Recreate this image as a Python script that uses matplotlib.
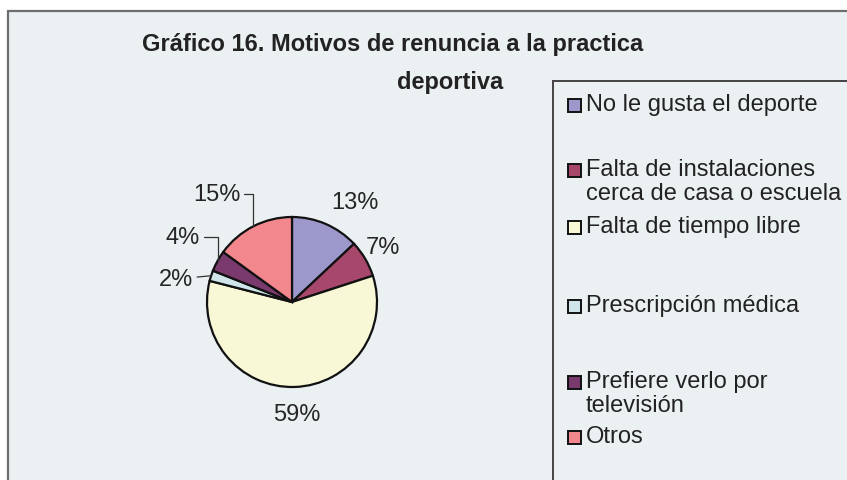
import matplotlib
matplotlib.use("Agg")
import matplotlib.pyplot as plt
import numpy as np
from matplotlib.patches import Rectangle

plt.rcParams['font.family'] = ['Liberation Sans', 'DejaVu Sans']

# ---- data ----
categories = ["No le gusta el deporte",
              "Falta de instalaciones\ncerca de casa o escuela",
              "Falta de tiempo libre",
              "Prescripción médica",
              "Prefiere verlo por\ntelevisión",
              "Otros"]
values = [13, 7, 59, 2, 4, 15]
pct_labels = ["13%", "7%", "59%", "2%", "4%", "15%"]
title_line1 = "Gráfico 16. Motivos de renuncia a la practica"
title_line2 = "deportiva"

# ---- style ----
colors = ["#9d98cc", "#a8476c", "#f8f7d6", "#cfe5ea", "#7b3a6e", "#f2888e"]
W, H = 847, 481
bg = "#ebf1f3"
FS = 17

fig = plt.figure(figsize=(W / 100, H / 100), dpi=100)
fig.patch.set_facecolor("white")
ax = fig.add_axes([0, 0, 1, 1])

def py(y):  # pixel-from-top -> data y
    return H - y

# pie
cx, cy, R = 292, py(303), 85
wedges, _ = ax.pie(values, colors=colors, startangle=90, counterclock=False,
                   center=(cx, cy), radius=R, frame=True,
                   wedgeprops=dict(edgecolor="#111111", linewidth=1.6, zorder=2))
ax.set_xlim(0, W)
ax.set_ylim(0, H)
ax.set_aspect("equal")
ax.axis("off")

# chart area
ax.add_patch(Rectangle((8, py(H + 10)), W, H - 2, facecolor=bg, edgecolor="#6e6e6e",
                       linewidth=1.6, zorder=0))

# label positions (in units of radius, relative to centre)
label_pos = [(0.735, 1.18), (1.07, 0.65), (0.06, -1.32), None, None, None]
for lab, p in zip(pct_labels, label_pos):
    if p is not None:
        ax.text(cx + p[0] * R, cy + p[1] * R, lab, ha="center", va="center",
                fontsize=FS, color="#262626")

# small slices with leader lines
lead = {3: (-1.165, 0.27, "arc3"),
        4: (-1.08, 0.765, "angle,angleA=0,angleB=90"),
        5: (-0.61, 1.27, "angle,angleA=0,angleB=90")}
for i, (fx, fy, cs) in lead.items():
    w = wedges[i]
    mid = np.deg2rad((w.theta1 + w.theta2) / 2)
    ex, ey = cx + R * np.cos(mid), cy + R * np.sin(mid)
    ax.annotate(pct_labels[i], xy=(ex, ey), xytext=(cx + fx * R, cy + fy * R),
                ha="right", va="center", fontsize=FS, color="#262626",
                arrowprops=dict(arrowstyle="-", color="#333333", lw=0.9,
                                connectionstyle=cs, shrinkA=1, shrinkB=0))

# title
ax.text(142, py(45), title_line1, ha="left", va="center", fontsize=17,
        fontweight="bold", color="#222222")
ax.text(397, py(83), title_line2, ha="left", va="center", fontsize=17,
        fontweight="bold", color="#222222")

# legend box
lx, ly = 553, 82
ax.add_patch(Rectangle((lx, py(H + 10)), W, H + 10 - ly, facecolor=bg,
                       edgecolor="#444444", linewidth=1.4, zorder=1))
entry_y = [106, 171, 228, 307, 383, 438]
for c, name, yy in zip(colors, categories, entry_y):
    ax.add_patch(Rectangle((568, py(yy) - 6.5), 13, 13, facecolor=c,
                           edgecolor="#111111", linewidth=1.4, zorder=2))
    ax.text(586, py(yy) + FS * 0.69, name, ha="left", va="top", fontsize=FS,
            color="#222222", zorder=3, linespacing=1.12)

fig.savefig("out.png", dpi=100, facecolor=fig.get_facecolor())
